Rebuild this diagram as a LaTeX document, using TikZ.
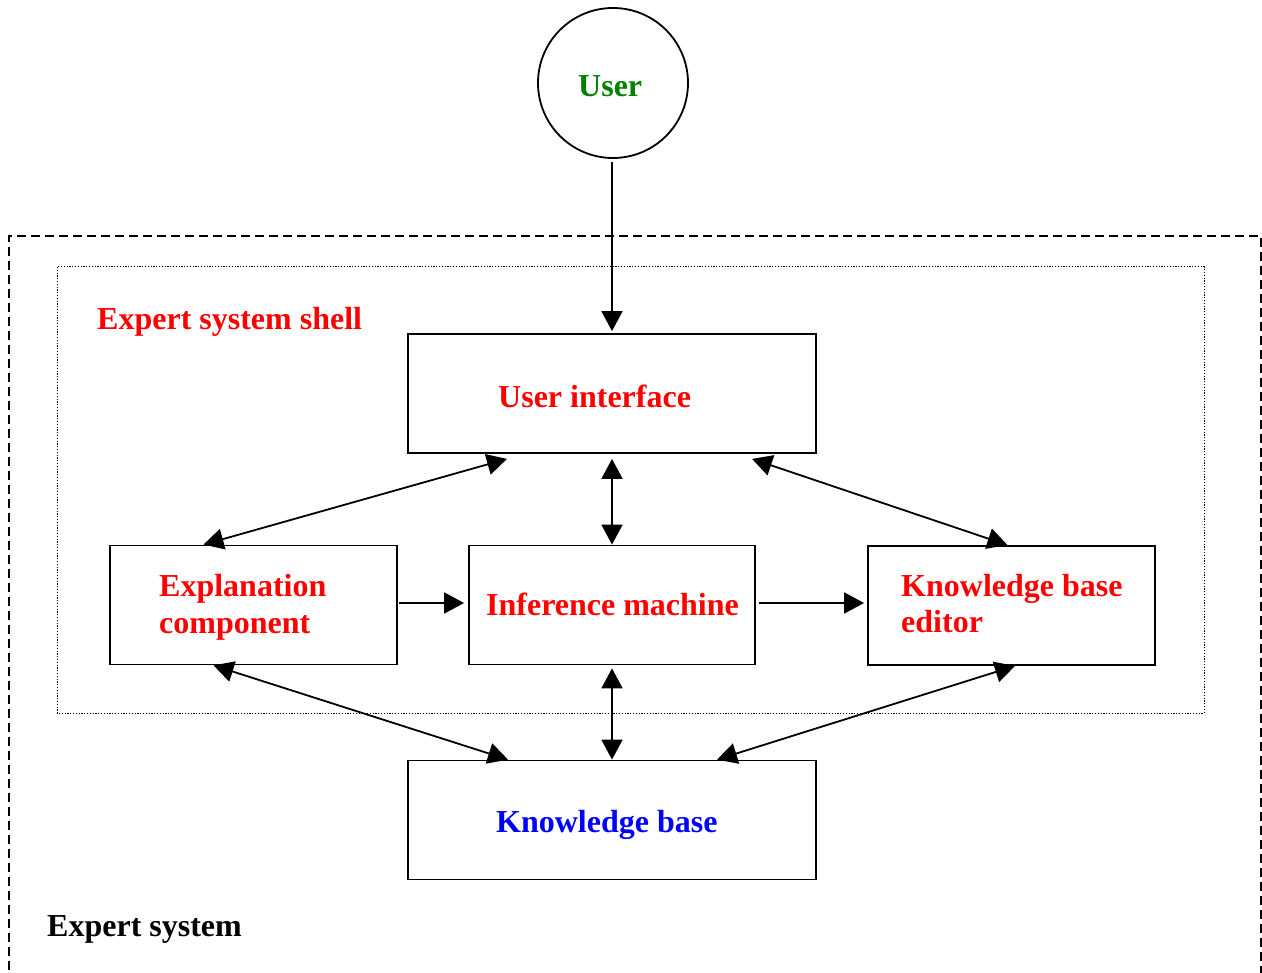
\documentclass[tikz,border=0pt]{standalone}
\usepackage{fontspec}
\setmainfont{Liberation Serif}
\usetikzlibrary{arrows.meta}
\definecolor{tred}{RGB}{255,0,0}
\definecolor{tgreen}{RGB}{0,128,0}
\definecolor{tblue}{RGB}{0,0,255}
\begin{document}
\begin{tikzpicture}[x=1pt,y=-1pt,
  box/.style={draw,line width=1.8pt,minimum width=#1,minimum height=119pt,inner sep=0pt},
  lbl/.style={font=\fontsize{32}{37}\selectfont\bfseries,anchor=base west,inner sep=0pt},
  conn/.style={line width=1.8pt,-{Triangle[length=20pt,width=21pt]}},
  bconn/.style={line width=1.8pt,{Triangle[length=20pt,width=21pt]}-{Triangle[length=20pt,width=21pt]}}]
\useasboundingbox (0,0) rectangle (1262,973);
% outer and inner frames
\draw[line width=1.6pt,dash pattern=on 9pt off 5pt] (1261,975) -- (1261,236) -- (9,236) -- (9,975);
\draw[line width=1pt,dash pattern=on 1.2pt off 1.6pt] (57,267) rectangle (1204,713);
% nodes
\node[circle,draw,line width=1.8pt,minimum size=150pt,inner sep=0pt] (user) at (613,83) {};
\node[box=408pt] (ui) at (612,393.5) {};
\node[box=287pt] (expl) at (253.5,605) {};
\node[box=286pt] (inf) at (612,605) {};
\node[box=287pt] (kbe) at (1011.5,605.5) {};
\node[box=408pt] (kb) at (612,820) {};
% labels
\node[lbl,text=tgreen] (tuser) at (578,97) {User};
\node[lbl,text=tred] (tshell) at (97,330) {Expert system shell};
\node[lbl,text=tred] (tui) at (498,408) {User interface};
\node[lbl,text=tred] (texpl1) at (159,596) {Explanation};
\node[lbl,text=tred] (texpl2) at (159,633) {component};
\node[lbl,text=tred] (tinf) at (486,615) {Inference machine};
\node[lbl,text=tred] (tkbe1) at (901,596) {Knowledge base};
\node[lbl,text=tred] (tkbe2) at (901,632) {editor};
\node[lbl,text=tblue] (tkb) at (496,832) {Knowledge base};
\node[lbl,text=black] (tes) at (47,936) {Expert system};
% connectors
\draw[conn] ([xshift=-1pt,yshift=-3pt]user.south) -- ([yshift=2pt]ui.north);
\draw[bconn] ([xshift=-105pt,yshift=-5pt]ui.south) -- ([xshift=-50pt]expl.north);
\draw[bconn] ([yshift=-5pt]ui.south) -- (inf.north);
\draw[bconn] ([xshift=140pt,yshift=-5pt]ui.south) -- ([xshift=-4pt]kbe.north);
\draw[conn] ([xshift=1pt,yshift=2pt]expl.east) -- ([xshift=-4pt,yshift=2pt]inf.west);
\draw[conn] ([xshift=3pt,yshift=2pt]inf.east) -- ([xshift=-3pt,yshift=2.5pt]kbe.west);
\draw[bconn] ([xshift=-40pt]expl.south) -- ([xshift=-104pt]kb.north);
\draw[bconn] ([yshift=-3pt]inf.south) -- (kb.north);
\draw[bconn] ([xshift=3.5pt]kbe.south) -- ([xshift=105pt]kb.north);
\end{tikzpicture}
\end{document}
